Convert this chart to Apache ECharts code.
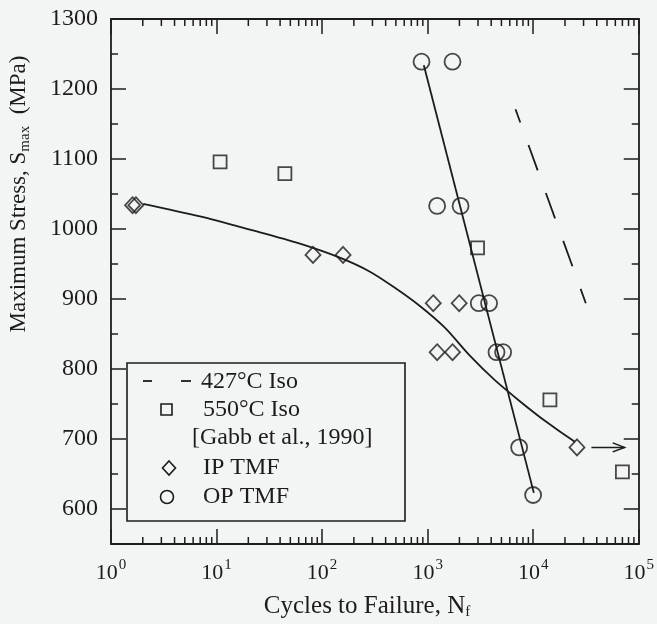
<!DOCTYPE html>
<html><head><meta charset="utf-8">
<script src="https://cdn.jsdelivr.net/npm/echarts@6/dist/echarts.min.js"></script>
<style>html,body{margin:0;padding:0;background:#f3f4f4}#c{width:657px;height:624px}</style>
</head><body><div id="c"></div>
<script>
// ---- data ----
const iso550Cycles = [10.8, 44.4, 2970, 14400, 70000];
const iso550Stress = [1096, 1079, 973, 756, 653];
const ipCycles = [1.6, 1.72, 82, 158, 1130, 1990, 1230, 1720, 26000];
const ipStress = [1034, 1034, 963, 963, 894, 894, 824, 824, 688];
const opCycles = [875, 1720, 1230, 2050, 3050, 3820, 4490, 5190, 7360, 9980];
const opStress = [1239, 1239, 1033, 1033, 894, 894, 824, 824, 688, 620];
const ipFitCycles = [2.02, 6.96, 20.7, 61.6, 147, 284, 489, 844, 1455, 2510, 4330, 7470, 12900, 24800];
const ipFitStress = [1036, 1018, 999, 979, 959, 939, 916, 890, 859, 819, 784, 754, 726, 696];
const opFitCycles = [920, 10140];
const opFitStress = [1234, 623];
const iso427Cycles = [6800, 31500];
const iso427Stress = [1171, 894];
const arrowCycles = [35600, 73600];
const arrowStress = [688, 688];
const xTickExponents = ['0', '1', '2', '3', '4', '5'];
const yTickLabels = [600, 700, 800, 900, 1000, 1100, 1200, 1300];
const yMinorTicks = [550, 650, 750, 850, 950, 1050, 1150, 1250];
const xMinorMultipliers = [2, 3, 4, 5, 6, 7, 8, 9];
const xDecades = [1, 10, 100, 1000, 10000];

const ink = '#1c1c1c';
const bg = '#f3f4f4';
const FONT = '"Liberation Serif", "DejaVu Serif", serif';
const LW = 1.8;
const xMinorTicks = [];
xDecades.forEach(d => xMinorMultipliers.forEach(m => xMinorTicks.push(m * d)));
const pairs = (xs, ys) => xs.map((x, i) => [x, ys[i]]);

const chart = echarts.init(document.getElementById('c'), null, { renderer: 'canvas' });

const yBase = { type: 'value', min: 550, max: 1300, interval: 50, splitLine: { show: false } };
const xBase = { type: 'log', logBase: 10, min: 1, max: 100000, splitNumber: 5, splitLine: { show: false }, minorTick: { show: false } };
const tickStyle = { color: ink, width: 1.5 };

const option = {
  backgroundColor: bg,
  animation: false,
  grid: { left: 111, right: 18, top: 19, bottom: 80 },
  xAxis: [
    Object.assign({}, xBase, {
      position: 'bottom',
      axisLine: { lineStyle: { color: ink, width: LW } },
      axisTick: { inside: true, length: 15, lineStyle: tickStyle },
      axisLabel: {
        margin: 14, color: ink, fontFamily: FONT,
        formatter: v => '{b|10}{s|' + xTickExponents[Math.round(Math.log10(v))] + '}',
        rich: {
          b: { fontSize: 22, fontFamily: FONT, color: ink, lineHeight: 26, verticalAlign: 'bottom' },
          s: { fontSize: 15, fontFamily: FONT, color: ink, lineHeight: 15, verticalAlign: 'top', padding: [0, 0, 0, 1] }
        }
      }
    }),
    Object.assign({}, xBase, {
      position: 'top',
      axisLine: { lineStyle: { color: ink, width: LW } },
      axisTick: { inside: true, length: 15, lineStyle: tickStyle },
      axisLabel: { show: false }
    })
  ],
  yAxis: [
    Object.assign({}, yBase, {
      position: 'left',
      axisLine: { show: true, lineStyle: { color: ink, width: LW } },
      axisTick: { inside: true, length: 15, customValues: yTickLabels, lineStyle: tickStyle },
      axisLabel: { customValues: yTickLabels, formatter: v => String(v), margin: 13, color: ink, fontSize: 24, fontFamily: FONT }
    }),
    Object.assign({}, yBase, {
      position: 'left',
      axisLine: { show: false },
      axisTick: { inside: true, length: 7, customValues: yMinorTicks, lineStyle: tickStyle },
      axisLabel: { show: false }
    }),
    Object.assign({}, yBase, {
      position: 'right',
      axisLine: { show: true, lineStyle: { color: ink, width: LW } },
      axisTick: { inside: true, length: 15, customValues: yTickLabels, lineStyle: tickStyle },
      axisLabel: { show: false }
    }),
    Object.assign({}, yBase, {
      position: 'right',
      axisLine: { show: false },
      axisTick: { inside: true, length: 7, customValues: yMinorTicks, lineStyle: tickStyle },
      axisLabel: { show: false }
    })
  ],
  series: [
    {
      name: 'xMinorTicks', type: 'custom', xAxisIndex: 0, yAxisIndex: 0, silent: true, clip: false,
      data: xMinorTicks.map(v => [v, 550]),
      renderItem: (params, api) => {
        const b = api.coord([api.value(0), 550]);
        const t = api.coord([api.value(0), 1300]);
        return {
          type: 'group', children: [
            { type: 'line', shape: { x1: b[0], y1: b[1], x2: b[0], y2: b[1] - 7 }, style: { stroke: ink, lineWidth: 1.5 } },
            { type: 'line', shape: { x1: t[0], y1: t[1], x2: t[0], y2: t[1] + 7 }, style: { stroke: ink, lineWidth: 1.5 } }
          ]
        };
      }
    },
    {
      name: '427°C Iso', type: 'line', data: pairs(iso427Cycles, iso427Stress), showSymbol: false,
      lineStyle: { color: ink, width: LW, type: [27, 24], dashOffset: 13 }, z: 2
    },
    {
      name: 'IP fit', type: 'line', data: pairs(ipFitCycles, ipFitStress), showSymbol: false, smooth: 0.3,
      lineStyle: { color: ink, width: LW }, z: 2
    },
    {
      name: 'OP fit', type: 'line', data: pairs(opFitCycles, opFitStress), showSymbol: false,
      lineStyle: { color: ink, width: LW }, z: 2
    },
    {
      name: 'arrow', type: 'line', z: 2,
      data: [
        { value: [arrowCycles[0], arrowStress[0]], symbol: 'none' },
        { value: [arrowCycles[1], arrowStress[1]], symbol: 'path://M0,0L10,5L0,10', symbolSize: [12, 9], symbolOffset: [-6, 0] }
      ],
      showAllSymbol: true,
      lineStyle: { color: ink, width: 1.5 },
      itemStyle: { color: 'none', borderColor: ink, borderWidth: 1.5 }
    },
    {
      name: '550°C Iso', type: 'scatter', data: pairs(iso550Cycles, iso550Stress), symbol: 'rect', symbolSize: 13,
      itemStyle: { color: 'none', borderColor: ink, borderWidth: LW }, z: 3
    },
    {
      name: 'IP TMF', type: 'scatter', data: pairs(ipCycles, ipStress), symbol: 'diamond', symbolSize: [15, 16],
      itemStyle: { color: 'none', borderColor: ink, borderWidth: LW }, z: 3
    },
    {
      name: 'OP TMF', type: 'scatter', data: pairs(opCycles, opStress), symbol: 'circle', symbolSize: 16,
      itemStyle: { color: 'none', borderColor: ink, borderWidth: LW }, z: 3
    }
  ],
  graphic: [
    { type: 'rect', shape: { x: 127, y: 363, width: 278, height: 158 }, style: { fill: 'none', stroke: ink, lineWidth: 1.6 }, z: 10 },
    { type: 'line', shape: { x1: 143, y1: 381, x2: 152, y2: 381 }, style: { stroke: ink, lineWidth: 1.8 }, z: 10 },
    { type: 'line', shape: { x1: 181, y1: 381, x2: 191, y2: 381 }, style: { stroke: ink, lineWidth: 1.8 }, z: 10 },
    { type: 'rect', shape: { x: 161, y: 404, width: 11, height: 11 }, style: { fill: 'none', stroke: ink, lineWidth: 1.6 }, z: 10 },
    { type: 'polygon', shape: { points: [[169, 461], [175.5, 468], [169, 475], [162.5, 468]] }, style: { fill: 'none', stroke: ink, lineWidth: 1.6 }, z: 10 },
    { type: 'circle', shape: { cx: 167, cy: 497, r: 6.5 }, style: { fill: 'none', stroke: ink, lineWidth: 1.6 }, z: 10 },
    { type: 'text', x: 201, y: 382, style: { text: '427°C Iso', font: '24px ' + FONT, fill: ink, verticalAlign: 'middle' }, z: 10 },
    { type: 'text', x: 203, y: 410, style: { text: '550°C Iso', font: '24px ' + FONT, fill: ink, verticalAlign: 'middle' }, z: 10 },
    { type: 'text', x: 192, y: 438, style: { text: '[Gabb et al., 1990]', font: '24px ' + FONT, fill: ink, verticalAlign: 'middle' }, z: 10 },
    { type: 'text', x: 203, y: 468, style: { text: 'IP TMF', font: '24px ' + FONT, fill: ink, verticalAlign: 'middle' }, z: 10 },
    { type: 'text', x: 203, y: 497, style: { text: 'OP TMF', font: '24px ' + FONT, fill: ink, verticalAlign: 'middle' }, z: 10 },
    {
      type: 'text', x: 367, y: 606, z: 10,
      style: {
        text: '{n|Cycles to Failure, N}{sub|f}', align: 'center', verticalAlign: 'middle', fill: ink,
        rich: {
          n: { fontSize: 25, fontFamily: FONT, color: ink, lineHeight: 28, verticalAlign: 'middle' },
          sub: { fontSize: 15, fontFamily: FONT, color: ink, lineHeight: 15, verticalAlign: 'bottom' }
        }
      }
    },
    {
      type: 'text', x: 19, y: 194, rotation: Math.PI / 2, z: 10,
      style: {
        text: '{n|Maximum Stress, S}{sub|max}{n|  (MPa)}', align: 'center', verticalAlign: 'middle', fill: ink,
        rich: {
          n: { fontSize: 23, fontFamily: FONT, color: ink, lineHeight: 27, verticalAlign: 'middle' },
          sub: { fontSize: 15, fontFamily: FONT, color: ink, lineHeight: 15, verticalAlign: 'bottom' }
        }
      }
    }
  ]
};
chart.setOption(option);
</script>
</body></html>
